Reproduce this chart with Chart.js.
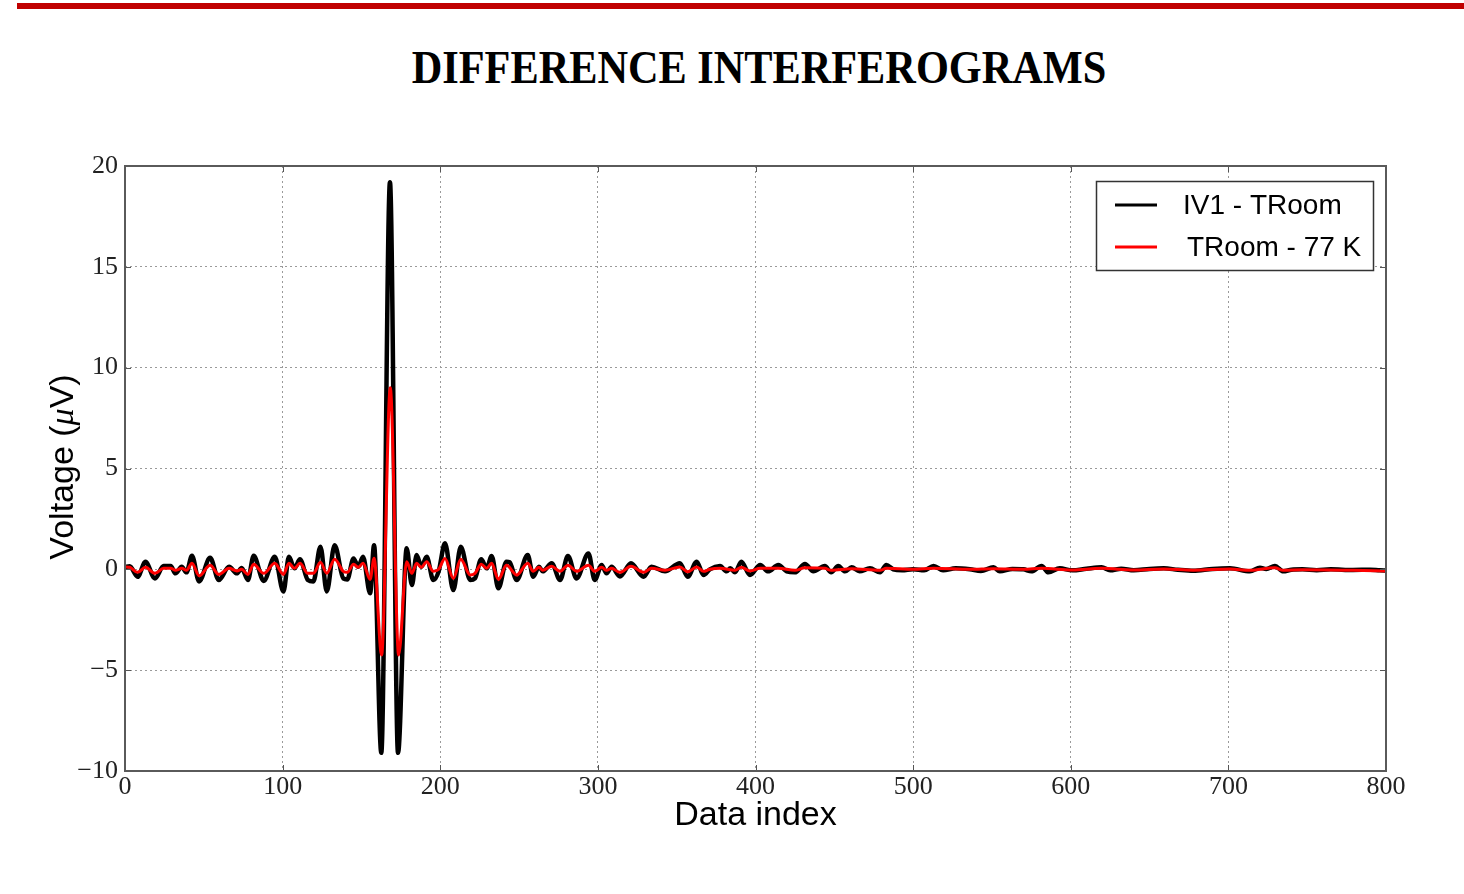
<!DOCTYPE html>
<html>
<head>
<meta charset="utf-8">
<script src="https://cdn.jsdelivr.net/npm/chart.js@4.4.1/dist/chart.umd.min.js"></script>
<style>
  html, body { margin: 0; padding: 0; background: #fff; }
  body { width: 1464px; height: 894px; position: relative; overflow: hidden; }
  .topbar { position: absolute; left: 17px; top: 3px; width: 1447px; height: 6px; background: #c00000; }
  h1 {
    position: absolute; left: 759px; top: 44px; margin: 0;
    font: bold 47px/47px "Liberation Serif", "Times New Roman", serif;
    white-space: nowrap; color: #000;
    transform: translateX(-50%) scaleX(0.9);
  }
  #chart { position: absolute; left: 0; top: 0; }
</style>
</head>
<body>
<div class="topbar"></div>
<h1>DIFFERENCE INTERFEROGRAMS</h1>
<canvas id="chart" width="1464" height="894"></canvas>
<script>
// ── series: extrema (index, µV) ───────────────────────────────────
const iv1Index = [0, 3, 8, 13, 19, 24.5, 29, 32, 36, 39, 42.5, 47, 54, 59.5, 66, 71, 74, 78, 81.6, 88,
  95, 100.5, 104, 107.5, 111, 116, 119.5, 124, 128, 133, 138.5, 141, 145, 148, 151, 155.5, 158,
  162.6, 168.1, 173.2, 178.7, 182, 185, 188, 191.4, 195.6, 199, 203, 208.3, 213, 219, 222, 226,
  229.5, 232.6, 236.9, 242, 244, 248.5, 255.5, 259, 262.6, 265, 270.7, 276, 281, 286.5, 294, 298,
  302.4, 305.5, 308.7, 314, 321, 329, 334, 342.6, 352, 357, 362.7, 367, 371, 377.5, 381.7, 384,
  387, 391, 396.5, 403, 408, 414.5, 419.8, 425, 431.4, 436.7, 444, 448, 452.5, 456.8, 461, 466,
  472.6, 479, 483, 487.4, 493, 500, 507, 513, 519, 527, 536, 543, 551, 555, 563, 570, 575, 581.5,
  585.8, 593, 601, 610, 619.6, 625, 632, 640, 650, 659, 668, 677.7, 690, 701, 713.7, 720, 724,
  729.5, 734.8, 740, 747, 756, 765, 779, 790, 796, 800];
const iv1Volts = [0.12, 0.15, -0.37, 0.37, -0.45, 0.16, 0.16, -0.2, 0.13, -0.15, 0.67, -0.6, 0.57, -0.53, 0.13, -0.2, 0.06, -0.53, 0.67, -0.58,
  0.62, -1.1, 0.62, 0.05, 0.5, -0.53, -0.6, 1.12, -1.1, 1.2, -0.45, -0.5, 0.54, 0.13, 0.62, -1.19, 1.2,
  -9.1, 19.2, -9.1, 1.04, -0.78, 0.71, 0.13, 0.62, -0.53, -0.1, 1.29, -1.03, 1.12, -0.53, -0.45, 0.5,
  0.05, 0.66, -0.94, 0.38, 0.35, -0.53, 0.71, -0.37, 0.13, -0.1, 0.3, -0.53, 0.66, -0.45, 0.79, -0.53,
  0.21, -0.2, 0.13, -0.35, 0.3, -0.37, 0.13, -0.1, 0.3, -0.37, 0.38, -0.28, 0, 0.16, -0.1, 0.05,
  -0.15, 0.38, -0.28, 0.21, -0.1, 0.21, -0.1, -0.15, 0.26, -0.1, 0.16, -0.15, 0.16, -0.1, 0.1, -0.1,
  0.05, -0.15, 0.21, 0, -0.05, 0, -0.05, 0.16, -0.05, 0.05, 0, -0.08, 0.1, -0.1, 0.02, 0, -0.1, 0.17,
  -0.15, 0.05, -0.05, 0.03, 0.1, -0.05, 0.03, -0.05, 0.02, 0.05, -0.02, -0.07, 0.02, 0.05, -0.1, 0.08, 0.02,
  0.17, -0.1, -0.02, 0, -0.04, 0, -0.03, -0.02, -0.05, -0.06];

const troomIndex = [0, 3, 8, 13, 19, 24.5, 29, 32, 36, 39, 42.5, 47, 54, 59.5, 66, 71, 74, 78, 81.6, 88,
  95, 100.5, 104, 107.5, 111, 116, 119.5, 124, 128, 133, 138.5, 141, 145, 148, 151, 155.5, 158,
  162.8, 168.3, 173.6, 178.7, 182, 185, 188, 191.4, 195.6, 199, 203, 208.3, 213, 219, 222, 226,
  229.5, 232.6, 236.9, 242, 248.5, 255.5, 259, 262.6, 265, 270.7, 276, 281, 286.5, 294, 298,
  302.4, 305.5, 308.7, 314, 321, 329, 334, 342.6, 352, 357, 362.7, 367, 371, 377.5, 387, 391,
  396.5, 403, 414.5, 425, 431.4, 444, 448, 461, 479, 483, 500, 513, 536, 551, 570, 581.5, 601,
  619.6, 640, 659, 677.7, 701, 713.7, 729.5, 734.8, 747, 779, 800];
const troomVolts = [0.12, 0.1, -0.15, 0.1, -0.2, 0.05, 0.05, -0.05, 0.05, -0.05, 0.3, -0.32, 0.2, -0.25, 0.05, -0.08, 0, -0.25, 0.25, -0.2,
  0.3, -0.25, 0.3, 0.05, 0.3, -0.2, -0.2, 0.35, -0.2, 0.5, -0.1, -0.15, 0.25, 0.1, 0.3, -0.5, 0.55,
  -4.25, 9.0, -4.25, 0.38, -0.2, 0.3, 0.1, 0.38, -0.1, 0, 0.54, -0.45, 0.5, -0.28, -0.2, 0.25,
  0.05, 0.3, -0.5, 0.2, -0.28, 0.3, -0.1, 0.1, -0.05, 0.15, -0.1, 0.2, -0.1, 0.2, -0.1,
  0.1, -0.05, 0.05, -0.15, 0.15, -0.15, 0.05, -0.05, 0.12, -0.12, 0.12, -0.1, 0, 0.05, -0.05, 0.1,
  -0.08, 0.05, 0.05, -0.05, 0.08, 0.05, -0.05, 0.03, -0.05, 0.05, 0, 0.05, 0, 0.03, 0, 0.05, -0.03,
  0.05, -0.03, 0.02, -0.04, 0.02, -0.05, 0.08, -0.05, -0.02, -0.05, -0.08];

const seriesLabels = ['IV1 - TRoom', 'TRoom - 77 K'];
const seriesColors = ['#000000', '#ff0000'];
const xTicks = [0, 100, 200, 300, 400, 500, 600, 700, 800];
const yTicks = [-10, -5, 0, 5, 10, 15, 20];

const toPoints = (xs, ys) => xs.map((x, i) => ({ x, y: ys[i] }));

// Frame, inward tick marks, axis titles and legend box
const decorations = {
  id: 'decorations',
  afterDraw(chart) {
    const { ctx, chartArea: a, scales } = chart;
    ctx.save();

    // inward ticks on all four sides
    ctx.strokeStyle = '#555';
    ctx.lineWidth = 1;
    ctx.beginPath();
    for (const t of xTicks) {
      const px = Math.round(scales.x.getPixelForValue(t)) + 0.5;
      ctx.moveTo(px, a.bottom); ctx.lineTo(px, a.bottom - 6);
      ctx.moveTo(px, a.top); ctx.lineTo(px, a.top + 6);
    }
    for (const t of yTicks) {
      const py = Math.round(scales.y.getPixelForValue(t)) + 0.5;
      ctx.moveTo(a.left, py); ctx.lineTo(a.left + 6, py);
      ctx.moveTo(a.right, py); ctx.lineTo(a.right - 6, py);
    }
    ctx.stroke();

    // axes frame
    ctx.strokeStyle = '#5a5a5a';
    ctx.lineWidth = 2;
    ctx.strokeRect(a.left, a.top, a.right - a.left, a.bottom - a.top);

    // x title
    ctx.fillStyle = '#000';
    ctx.font = '34px "Liberation Sans", Arial, sans-serif';
    ctx.textAlign = 'center';
    ctx.textBaseline = 'alphabetic';
    ctx.fillText('Data index', (a.left + a.right) / 2, 825);

    // y title with italic serif mu
    const parts = [
      ['Voltage (', '34px "Liberation Sans", Arial, sans-serif'],
      ['\u03BC', 'italic 34px "Liberation Serif", serif'],
      ['V)', '34px "Liberation Sans", Arial, sans-serif'],
    ];
    let total = 0;
    const widths = parts.map(([s, f]) => { ctx.font = f; const w = ctx.measureText(s).width; total += w; return w; });
    ctx.translate(73, 467);
    ctx.rotate(-Math.PI / 2);
    ctx.textAlign = 'left';
    let cx = -total / 2;
    parts.forEach(([s, f], i) => { ctx.font = f; ctx.fillText(s, cx, 0); cx += widths[i]; });
    ctx.setTransform(1, 0, 0, 1, 0, 0);

    // legend
    const lx = 1096, ly = 181, lw = 277, lh = 89;
    ctx.fillStyle = '#fff';
    ctx.fillRect(lx, ly, lw, lh);
    ctx.strokeStyle = '#333';
    ctx.lineWidth = 1.5;
    ctx.strokeRect(lx + 0.5, ly + 0.5, lw, lh);
    const rows = [[205, 1183], [247, 1187]];
    ctx.font = '28px "Liberation Sans", Arial, sans-serif';
    ctx.textBaseline = 'middle';
    rows.forEach(([y, tx], i) => {
      ctx.strokeStyle = seriesColors[i];
      ctx.lineWidth = 3;
      ctx.beginPath(); ctx.moveTo(1115, y); ctx.lineTo(1157, y); ctx.stroke();
      ctx.fillStyle = '#000';
      ctx.fillText(seriesLabels[i], tx, y + 1);
    });
    ctx.restore();
  }
};

const serif = { family: '"Liberation Serif", "Times New Roman", serif', size: 26 };

new Chart(document.getElementById('chart'), {
  type: 'line',
  data: {
    datasets: [
      {
        label: seriesLabels[0],
        data: toPoints(iv1Index, iv1Volts),
        borderColor: seriesColors[0],
        borderWidth: 4.5,
        order: 2,
      },
      {
        label: seriesLabels[1],
        data: toPoints(troomIndex, troomVolts),
        borderColor: seriesColors[1],
        borderWidth: 3,
        order: 1,
      },
    ],
  },
  options: {
    responsive: false,
    animation: false,
    devicePixelRatio: 1,
    parsing: false,
    elements: {
      point: { radius: 0 },
      line: { cubicInterpolationMode: 'monotone', borderJoinStyle: 'round', borderCapStyle: 'round', fill: false },
    },
    layout: { padding: { left: 0, top: 166, right: 78, bottom: 63 } },
    plugins: { legend: { display: false }, tooltip: { enabled: false } },
    scales: {
      x: {
        type: 'linear', min: 0, max: 800,
        afterFit: s => { s.height = 60; },
        afterBuildTicks: s => { s.ticks = xTicks.map(v => ({ value: v })); },
        grid: { color: '#9a9a9a', lineWidth: 1, drawTicks: false },
        border: { display: false, dash: [2, 3] },
        ticks: { font: serif, color: '#222', padding: 1, maxRotation: 0 },
      },
      y: {
        type: 'linear', min: -10, max: 20,
        afterFit: s => { s.width = 125; },
        afterBuildTicks: s => { s.ticks = yTicks.map(v => ({ value: v })); },
        grid: { color: '#9a9a9a', lineWidth: 1, drawTicks: false },
        border: { display: false, dash: [2, 3] },
        ticks: { font: serif, color: '#222', padding: 7, callback: v => String(v).replace('-', '\u2212') },
      },
    },
  },
  plugins: [decorations],
});
</script>
</body>
</html>
